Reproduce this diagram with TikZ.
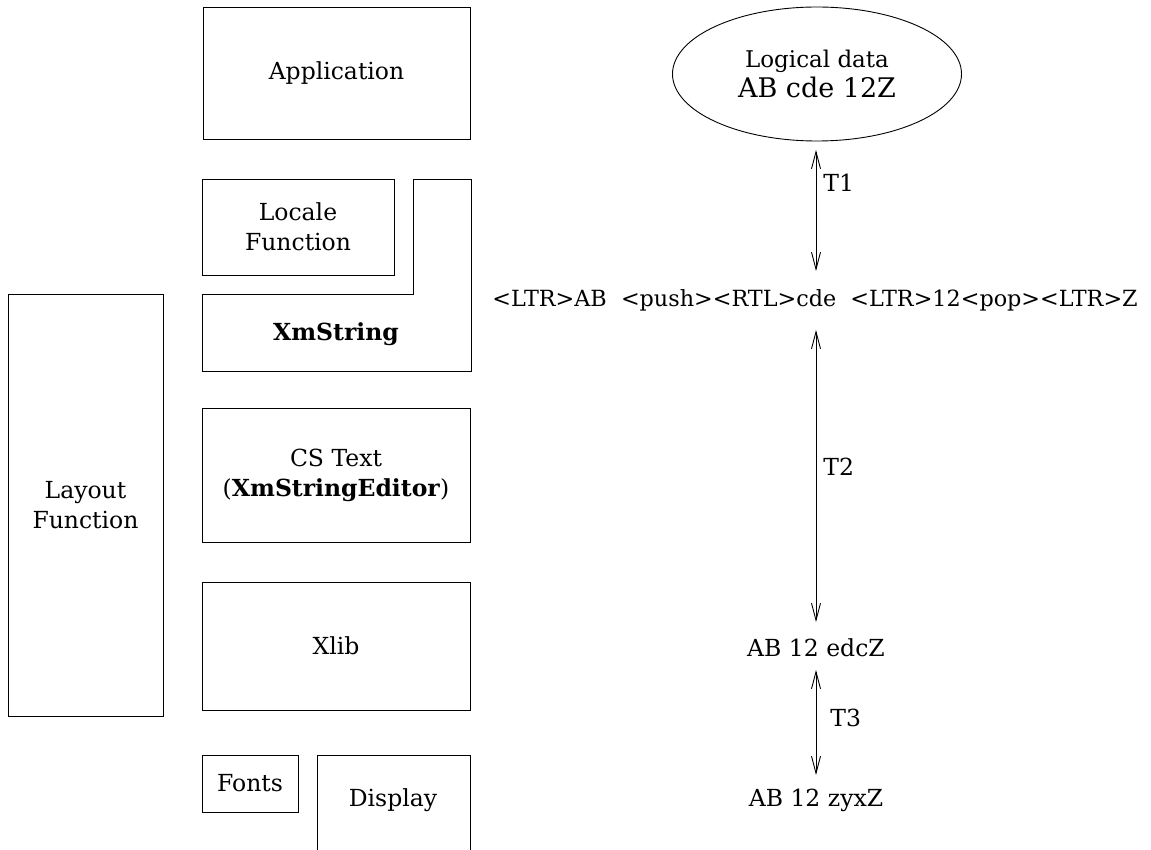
\documentclass[tikz,border=0pt]{standalone}
\usepackage{fontspec}
\setmainfont{DejaVu Serif}
\usetikzlibrary{arrows.meta,shapes.geometric}
\tikzset{
  box/.style={draw, line width=0.9pt, inner sep=0pt, align=center, font=\fontsize{23.5}{30}\selectfont},
  txt/.style={inner sep=0pt, align=center, font=\fontsize{23.5}{30}\selectfont},
  edge/.style={line width=0.9pt},
  dbl/.style={line width=0.9pt, {Straight Barb[length=17pt,width=9pt]}-{Straight Barb[length=17pt,width=9pt]}},
  lbl/.style={inner sep=0pt, anchor=west, font=\fontsize{23.5}{30}\selectfont},
}
\begin{document}
\begin{tikzpicture}[x=1pt,y=-1pt]
\useasboundingbox (0,0) rectangle (1151,850);
% left stack
\node[box, minimum width=267pt, minimum height=132pt] (app) at (336.5,73) {Application};
\node[box, minimum width=192pt, minimum height=96pt] (locale) at (298,227) {Locale\\Function};
\draw[edge] (202,294) -- (413,294) -- (413,179) -- (471,179) -- (471,371) -- (202,371) -- cycle;
\node[txt] (xms) at (336,334) {\textbf{XmString}};
\node[box, minimum width=268pt, minimum height=134pt] (cs) at (336,475) {CS Text\\(\textbf{XmStringEditor})};
\node[box, minimum width=268pt, minimum height=128pt] (xlib) at (336,646) {Xlib};
\node[box, minimum width=155pt, minimum height=422pt] (layout) at (85.5,505) {Layout\\Function};
\node[box, minimum width=96pt, minimum height=57pt] (fonts) at (250,783.5) {Fonts};
\draw[edge] (317,851) -- (317,755) -- (470,755) -- (470,851);
\node[txt] (display) at (393,800) {Display};
% right column
\node[draw, ellipse, line width=0.9pt, minimum width=289pt, minimum height=134pt, inner sep=0pt, align=center,
      font=\fontsize{27}{30}\selectfont] (ell) at (817,74)
  {{\fontsize{23}{30}\selectfont Logical data}\\AB cde 12Z};
\node[txt, font=\fontsize{22.3}{30}\selectfont] (mid) at (815,300) {<LTR>AB \ <push><RTL>cde \ <LTR>12<pop><LTR>Z};
\node[txt] (edcz) at (816,648) {AB 12 edcZ};
\node[txt] (zyxz) at (816,800) {AB 12 zyxZ};
\coordinate (a1s) at (816,150);
\coordinate (a1e) at (816,271);
\coordinate (a2s) at (816,330);
\coordinate (a2e) at (816,622);
\coordinate (a3s) at (816,670);
\coordinate (a3e) at (816,775);
\draw[dbl] (a1s) -- (a1e) node[lbl, pos=0.27, xshift=7pt] (t1) {T1};
\draw[dbl] (a2s) -- (a2e) node[lbl, pos=0.47, xshift=7pt] (t2) {T2};
\draw[dbl] (a3s) -- (a3e) node[lbl, pos=0.46, xshift=14pt] (t3) {T3};
\end{tikzpicture}
\end{document}
